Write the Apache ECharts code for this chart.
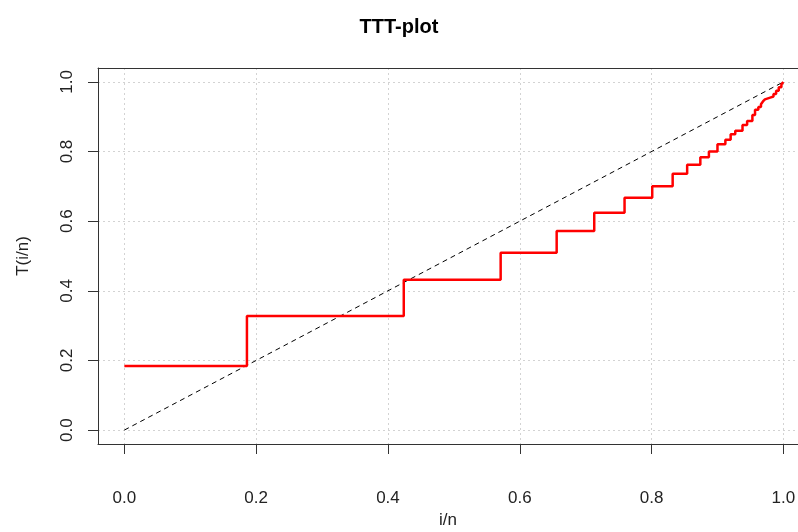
<!DOCTYPE html>
<html>
<head>
<meta charset="utf-8">
<script src="https://cdn.jsdelivr.net/npm/echarts@6/dist/echarts.min.js"></script>
<style>
html,body{margin:0;padding:0;background:#fff;}
#chart{width:798px;height:532px;}
</style>
</head>
<body>
<div id="chart"></div>
<script>
// TTT-plot step curve: x where each level starts, and the level value
const stepX = [0, 0.186, 0.424, 0.571, 0.656, 0.713, 0.759, 0.801, 0.832, 0.854, 0.874, 0.887, 0.900, 0.912, 0.920, 0.927, 0.938, 0.945, 0.953, 0.957, 0.962, 0.966, 0.969, 0.972, 0.975, 0.980, 0.985, 0.989, 0.993, 0.997, 1.0];
const stepY = [0.184, 0.328, 0.432, 0.509, 0.572, 0.624, 0.667, 0.700, 0.736, 0.762, 0.784, 0.800, 0.821, 0.834, 0.850, 0.860, 0.876, 0.888, 0.905, 0.920, 0.928, 0.936, 0.944, 0.950, 0.955, 0.958, 0.965, 0.975, 0.985, 0.993, 1.0];
// Reference diagonal
const diagX = [0, 1];
const diagY = [0, 1];
// Tick values
const xTicks = [0, 0.2, 0.4, 0.6, 0.8, 1.0];
const yTicks = [0, 0.2, 0.4, 0.6, 0.8, 1.0];

const FONT = '"Liberation Sans", Arial, sans-serif';
const chart = echarts.init(document.getElementById('chart'), null, {renderer: 'canvas'});

const stepData = stepX.map((x, i) => [x, stepY[i]]);
const diagData = diagX.map((x, i) => [x, diagY[i]]);

// x range: plot region extends past the right edge of the picture (clipped)
const X_MIN = -0.04, X_MAX = 1.0222;

chart.setOption({
  animation: false,
  backgroundColor: '#ffffff',
  title: {
    text: 'TTT-plot',
    left: 'center',
    top: 17,
    padding: [0, 0, 0, 110],
    textStyle: {fontFamily: FONT, fontSize: 20, fontWeight: 'bold', color: '#000'}
  },
  grid: {
    left: 98, top: 68, right: 0, height: 376,
    show: false, containLabel: false, outerBoundsMode: 'none'
  },
  xAxis: [{
    type: 'value', min: X_MIN, max: X_MAX, position: 'bottom',
    name: 'i/n', nameLocation: 'middle', nameGap: 68,
    nameTextStyle: {fontFamily: FONT, fontSize: 17, color: '#222'},
    axisLine: {show: true, onZero: false, lineStyle: {color: '#333', width: 1}},
    axisTick: {show: true, inside: false, length: 10, customValues: xTicks, lineStyle: {color: '#333'}},
    axisLabel: {customValues: xTicks, margin: 46, fontFamily: FONT, fontSize: 17, color: '#222',
      formatter: v => v.toFixed(1)},
    splitLine: {show: true, lineStyle: {color: '#d3d3d3', type: [2, 3], width: 1}}
  }, {
    type: 'value', min: X_MIN, max: X_MAX, position: 'top',
    axisLine: {show: true, onZero: false, lineStyle: {color: '#333', width: 1}},
    axisTick: {show: false}, axisLabel: {show: false}, splitLine: {show: false}
  }],
  yAxis: {
    type: 'value', min: -0.04, max: 1.04, position: 'left',
    name: 'T(i/n)', nameLocation: 'middle', nameGap: 66,
    nameTextStyle: {fontFamily: FONT, fontSize: 17, color: '#222'},
    axisLine: {show: true, onZero: false, lineStyle: {color: '#333', width: 1}},
    axisTick: {show: true, inside: false, length: 10, customValues: yTicks, lineStyle: {color: '#333'}},
    axisLabel: {customValues: yTicks, margin: 22, rotate: 90, fontFamily: FONT, fontSize: 17, color: '#222',
      formatter: v => v.toFixed(1)},
    splitLine: {show: true, lineStyle: {color: '#d3d3d3', type: [2, 3], width: 1}}
  },
  series: [
    {
      type: 'line', data: diagData, symbol: 'none', silent: true, xAxisIndex: 0,
      lineStyle: {color: '#000', width: 1, type: [5, 4]}
    },
    {
      type: 'line', data: stepData, step: 'end', symbol: 'none', silent: true, xAxisIndex: 0,
      lineStyle: {color: '#ff0000', width: 2.5}
    }
  ]
});
</script>
</body>
</html>
